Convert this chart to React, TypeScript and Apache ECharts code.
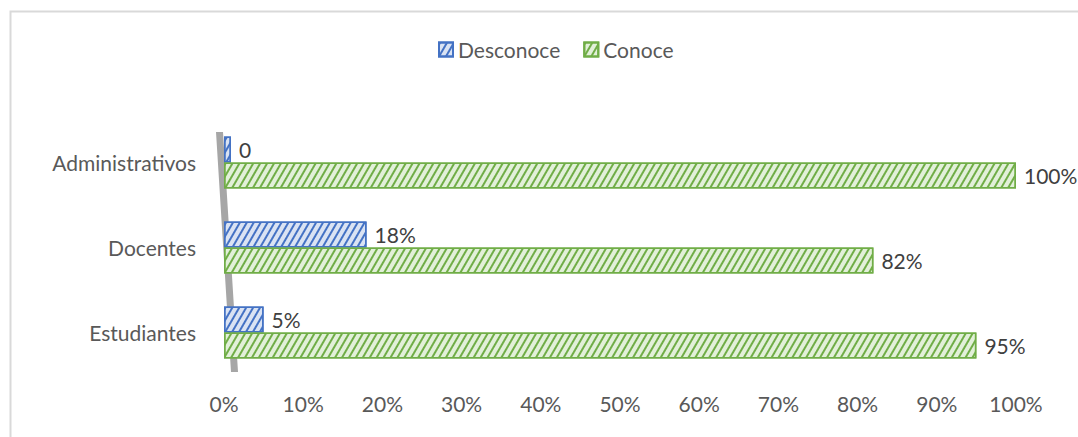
import React, { useEffect, useRef } from "react";
import * as echarts from "echarts";

const categories = ["Administrativos", "Docentes", "Estudiantes"];
const desconoce = [0, 18, 5];
const conoce = [100, 82, 95];
const seriesNames = ["Desconoce", "Conoce"];

const FONT = "Lato";
const TEXT = "#595959";

export default function App() {
  const ref = useRef<HTMLDivElement>(null);
  useEffect(() => {
    if (!ref.current) return;
    const chart = echarts.init(ref.current, undefined, { renderer: "svg" });
    const blueDecal = {
      symbol: "rect",
      symbolSize: 1,
      color: "#4472c4",
      dashArrayX: [1, 0],
      dashArrayY: [1.5, 4],
      rotation: -Math.PI / 3,
    };
    const greenDecal = {
      symbol: "rect",
      symbolSize: 1,
      color: "#70ad47",
      dashArrayX: [1, 0],
      dashArrayY: [1.5, 4],
      rotation: -Math.PI / 3,
    };
    chart.setOption({
      animation: false,
      backgroundColor: "#ffffff",
      textStyle: { fontFamily: FONT, color: TEXT },
      legend: {
        left: 433,
        top: 34,
        icon: "rect",
        itemWidth: 14,
        itemHeight: 14,
        itemGap: 23,
        textStyle: { fontFamily: FONT, fontSize: 21, color: TEXT },
        data: seriesNames,
      },
      grid: { left: 224, right: 62, top: 120, bottom: 62, containLabel: false },
      xAxis: {
        type: "value",
        min: 0,
        max: 100,
        interval: 10,
        axisLine: { show: false },
        axisTick: { show: false },
        splitLine: { show: false },
        axisLabel: {
          formatter: "{value}%",
          fontFamily: FONT,
          fontSize: 21,
          color: TEXT,
          margin: 18,
        },
      },
      yAxis: {
        type: "category",
        data: categories,
        inverse: true,
        axisLine: { show: false },
        axisTick: { show: false },
        axisLabel: { fontFamily: FONT, fontSize: 21, color: TEXT, margin: 28 },
      },
      graphic: [
        {
          type: "rect",
          z: -1,
          shape: { x: 10.5, y: 11.5, width: 1200, height: 600 },
          style: { fill: "none", stroke: "#d9d9d9", lineWidth: 2 },
        },
        {
          type: "polygon",
          z: 0,
          shape: { points: [[216, 132], [223, 132], [238, 372], [231, 372]] },
          style: { fill: "#a6a6a6" },
        },
      ],
      series: [
        {
          name: seriesNames[0],
          type: "bar",
          data: desconoce,
          barWidth: 26,
          barGap: "0%",
          barMinHeight: 7,
          z: 3,
          itemStyle: {
            color: "#dae3f3",
            borderColor: "#4472c4",
            borderWidth: 1.5,
            decal: blueDecal,
          },
          label: {
            show: true,
            position: "right",
            distance: 8,
            fontFamily: FONT,
            fontSize: 21,
            color: "#404040",
            formatter: (p: any) => (p.value === 0 ? "0" : p.value + "%"),
          },
        },
        {
          name: seriesNames[1],
          type: "bar",
          data: conoce,
          barWidth: 26,
          barGap: "0%",
          z: 3,
          itemStyle: {
            color: "#e2f0d9",
            borderColor: "#70ad47",
            borderWidth: 1.5,
            decal: greenDecal,
          },
          label: {
            show: true,
            position: "right",
            distance: 8,
            fontFamily: FONT,
            fontSize: 21,
            color: "#404040",
            formatter: (p: any) => p.value + "%",
          },
        },
      ],
    });
    return () => chart.dispose();
  }, []);
  return (
    <div
      ref={ref}
      style={{ position: "fixed", left: 0, top: 0, width: 1078, height: 437 }}
    />
  );
}
